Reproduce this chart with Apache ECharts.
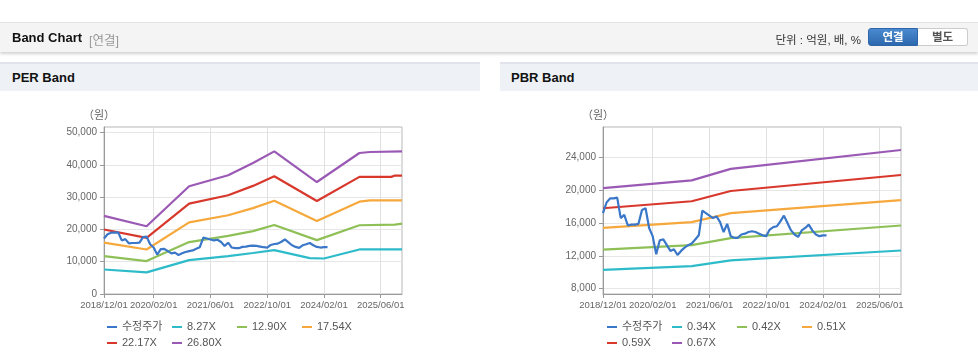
<!DOCTYPE html>
<html><head><meta charset="utf-8">
<script src="https://cdn.jsdelivr.net/npm/echarts@6.0.0/dist/echarts.min.js"></script>
<style>
html,body{margin:0;padding:0;background:#fff;width:978px;height:361px;overflow:hidden;font-family:"Liberation Sans","Noto Sans CJK KR",sans-serif;}
#chart{position:absolute;left:0;top:0;width:978px;height:361px;z-index:0;}
.bar{position:absolute;left:0;top:22px;width:978px;height:29px;background:#f4f4f4;border-top:1px solid #e3e3e3;box-shadow:0 2px 3px rgba(0,0,0,0.18);z-index:2;}
.bar .title{position:absolute;left:12px;top:7px;font-size:13px;font-weight:bold;color:#111;}
.bar .sub{position:absolute;left:89px;top:7px;font-size:12.5px;color:#999;}
.bar .unit{position:absolute;right:117px;top:8px;font-size:11.5px;color:#333;}
.btn{position:absolute;top:5px;height:18px;width:50px;box-sizing:border-box;font-size:11.5px;font-weight:bold;text-align:center;line-height:17px;border-radius:3px;}
.btn.on{left:868px;background:linear-gradient(#4a8ad0,#2d68ad);color:#fff;border:1px solid #2d65a8;border-radius:3px 0 0 3px;}
.btn.off{left:918px;background:#fff;color:#555;border:1px solid #ccc;border-left:none;border-radius:0 3px 3px 0;}
.hdr{position:absolute;top:62px;height:29px;background:#eef1f6;border-top:2px solid #e0e4ea;box-sizing:border-box;z-index:2;}
.hdr span{position:absolute;left:12px;top:6px;font-size:13px;font-weight:bold;color:#111;}
</style></head>
<body>
<div class="bar"><span class="title">Band Chart</span><span class="sub">[연결]</span><span class="unit">단위 : 억원, 배, %</span><div class="btn on">연결</div><div class="btn off">별도</div></div>
<div class="hdr" style="left:0;width:480px;"><span>PER Band</span></div>
<div class="hdr" style="left:500px;width:478px;"><span style="left:11px">PBR Band</span></div>
<div id="chart"></div>
<script>
const months = ['2018/12/01','2019/01/01','2019/02/01','2019/03/01','2019/04/01','2019/05/01','2019/06/01','2019/07/01','2019/08/01','2019/09/01','2019/10/01','2019/11/01',
'2019/12/01','2020/01/01','2020/02/01','2020/03/01','2020/04/01','2020/05/01','2020/06/01','2020/07/01','2020/08/01','2020/09/01','2020/10/01','2020/11/01',
'2020/12/01','2021/01/01','2021/02/01','2021/03/01','2021/04/01','2021/05/01','2021/06/01','2021/07/01','2021/08/01','2021/09/01','2021/10/01','2021/11/01',
'2021/12/01','2022/01/01','2022/02/01','2022/03/01','2022/04/01','2022/05/01','2022/06/01','2022/07/01','2022/08/01','2022/09/01','2022/10/01','2022/11/01',
'2022/12/01','2023/01/01','2023/02/01','2023/03/01','2023/04/01','2023/05/01','2023/06/01','2023/07/01','2023/08/01','2023/09/01','2023/10/01','2023/11/01',
'2023/12/01','2024/01/01','2024/02/01','2024/03/01','2024/04/01','2024/05/01','2024/06/01','2024/07/01','2024/08/01','2024/09/01','2024/10/01','2024/11/01',
'2024/12/01','2025/01/01','2025/02/01','2025/03/01','2025/04/01','2025/05/01','2025/06/01','2025/07/01','2025/08/01','2025/09/01','2025/10/01','2025/11/01',
'2025/12/01'];
const xTickLabels = ['2018/12/01','2020/02/01','2021/06/01','2022/10/01','2024/02/01','2025/06/01'];

// 수정주가 (monthly, 2018/12 .. 2024/03)
const price = [17200,18500,19000,19000,19100,16600,17000,15700,15800,15800,
15900,17600,17800,15400,14400,12200,13900,14000,13300,12600,
12800,12100,12600,13000,13300,13500,14000,14500,17500,17200,
16900,16600,16800,16100,14900,15900,14400,14200,14200,14600,
14700,14900,15000,14900,14700,14500,14400,15200,15500,15600,
16200,16900,16000,15100,14600,14300,15100,15400,15800,15100,
14600,14400,14500,14500];

// PER bands
const per827 = [['2018/12/01',7600],['2019/12/01',6700],['2020/12/01',10500],['2021/11/01',11750],['2022/06/01',12700],['2022/12/01',13600],['2023/10/01',11100],['2024/02/01',11000],['2024/12/01',13800],['2025/12/01',13800]];
const per1290 = [['2018/12/01',11750],['2019/12/01',10200],['2020/12/01',16100],['2021/11/01',18000],['2022/06/01',19500],['2022/12/01',21400],['2023/12/01',16700],['2024/12/01',21300],['2025/10/01',21500],['2025/12/01',21800]];
const per1754 = [['2018/12/01',15900],['2019/12/01',13800],['2020/12/01',22200],['2021/11/01',24400],['2022/06/01',26600],['2022/12/01',28900],['2023/12/01',22600],['2024/12/01',28600],['2025/03/01',29000],['2025/12/01',29000]];
const per2217 = [['2018/12/01',20000],['2019/12/01',17400],['2020/12/01',28000],['2021/11/01',30600],['2022/06/01',33500],['2022/12/01',36500],['2023/12/01',28800],['2024/12/01',36300],['2025/09/01',36300],['2025/10/01',36700],['2025/12/01',36700]];
const per2680 = [['2018/12/01',24200],['2019/12/01',21000],['2020/12/01',33400],['2021/11/01',36800],['2022/06/01',40600],['2022/12/01',44200],['2023/12/01',34700],['2024/12/01',43700],['2025/03/01',44000],['2025/12/01',44200]];

// PBR bands
const pbr034 = [['2018/12/01',10300],['2021/01/01',10750],['2021/12/01',11450],['2025/12/01',12650]];
const pbr042 = [['2018/12/01',12750],['2021/01/01',13300],['2021/12/01',14150],['2025/12/01',15700]];
const pbr051 = [['2018/12/01',15400],['2021/01/01',16100],['2021/12/01',17200],['2025/12/01',18800]];
const pbr059 = [['2018/12/01',17800],['2021/01/01',18650],['2021/12/01',19900],['2025/12/01',21850]];
const pbr067 = [['2018/12/01',20250],['2021/01/01',21200],['2021/12/01',22600],['2025/12/01',24900]];

const perNames = ['수정주가','8.27X','12.90X','17.54X','22.17X','26.80X'];
const pbrNames = ['수정주가','0.34X','0.42X','0.51X','0.59X','0.67X'];
const perYTicks = [0,10000,20000,30000,40000,50000];
const pbrYTicks = [8000,12000,16000,20000,24000];
const perYRange = [0, 51750];
const pbrYRange = [7350, 27700];

const colors = ['#3a77c8','#2dbbca','#8ec057','#f6a83c','#d8382c','#9a59b4'];
const FONT = '"Liberation Sans","Noto Sans CJK KR",sans-serif';

const showI = (i) => xTickLabels.indexOf(months[i]) >= 0;

function xAxis(gi) {
  return {type:'category', gridIndex:gi, data:months, boundaryGap:false,
    axisLine:{show:true, lineStyle:{color:'#9a9a9a', width:1}},
    axisTick:{show:true, length:4, interval:showI, lineStyle:{color:'#9a9a9a'}},
    axisLabel:{interval:showI, color:'#666', fontSize:9.5, margin:7, fontFamily:FONT},
    splitLine:{show:true, interval:showI, lineStyle:{color:'#e0e0e0', width:1}}};
}
function yAxis(gi, range, ticks) {
  return {type:'value', gridIndex:gi, min:range[0], max:range[1],
    name:'（원）', nameLocation:'end', nameGap:6,
    nameTextStyle:{color:'#666', fontSize:11, fontFamily:FONT, align:'center', padding:[0,10,0,0]},
    axisLine:{show:true, lineStyle:{color:'#9a9a9a'}},
    axisTick:{show:true, length:4, customValues:ticks, lineStyle:{color:'#9a9a9a'}},
    axisLabel:{customValues:ticks, color:'#666', fontSize:10, margin:7, fontFamily:FONT,
      formatter:(v)=>Number(v).toLocaleString('en-US')},
    splitLine:{show:true, lineStyle:{color:'#e6e6e6'}}};
}
function line(name, data, color, gi, z) {
  return {name, type:'line', xAxisIndex:gi, yAxisIndex:gi, data, color,
    showSymbol:false, symbol:'none', lineStyle:{width:2.2, color}, z, animation:false};
}
function legend(names, left, top) {
  return {data:names, left, top, orient:'horizontal', padding:0, icon:'rect',
    itemWidth:10, itemHeight:2, itemGap:5, selectedMode:false,
    textStyle:{fontSize:11, color:'#555', width:45, lineHeight:12, fontFamily:FONT}};
}

const chart = echarts.init(document.getElementById('chart'), null, {renderer:'canvas'});
chart.setOption({
  animation:false,
  textStyle:{fontFamily:FONT},
  grid:[
    {left:104, top:127, width:298, height:167, show:true, borderColor:'#b8b8b8', borderWidth:1, backgroundColor:'#fff', containLabel:false, outerBoundsMode:'none'},
    {left:603, top:127, width:298, height:167, show:true, borderColor:'#b8b8b8', borderWidth:1, backgroundColor:'#fff', containLabel:false, outerBoundsMode:'none'}
  ],
  xAxis:[xAxis(0), xAxis(1)],
  yAxis:[yAxis(0, perYRange, perYTicks), yAxis(1, pbrYRange, pbrYTicks)],
  legend:[
    legend(perNames.slice(0,4), 107, 321), legend(perNames.slice(4), 107, 337),
    legend(pbrNames.slice(0,4), 607, 321), legend(pbrNames.slice(4), 607, 337)
  ],
  series:[
    line(perNames[1], per827, colors[1], 0, 2),
    line(perNames[2], per1290, colors[2], 0, 2),
    line(perNames[3], per1754, colors[3], 0, 2),
    line(perNames[4], per2217, colors[4], 0, 2),
    line(perNames[5], per2680, colors[5], 0, 2),
    line(perNames[0], price, colors[0], 0, 3),
    line(pbrNames[1], pbr034, colors[1], 1, 2),
    line(pbrNames[2], pbr042, colors[2], 1, 2),
    line(pbrNames[3], pbr051, colors[3], 1, 2),
    line(pbrNames[4], pbr059, colors[4], 1, 2),
    line(pbrNames[5], pbr067, colors[5], 1, 2),
    line(pbrNames[0], price, colors[0], 1, 3)
  ]
});
</script>
</body></html>
